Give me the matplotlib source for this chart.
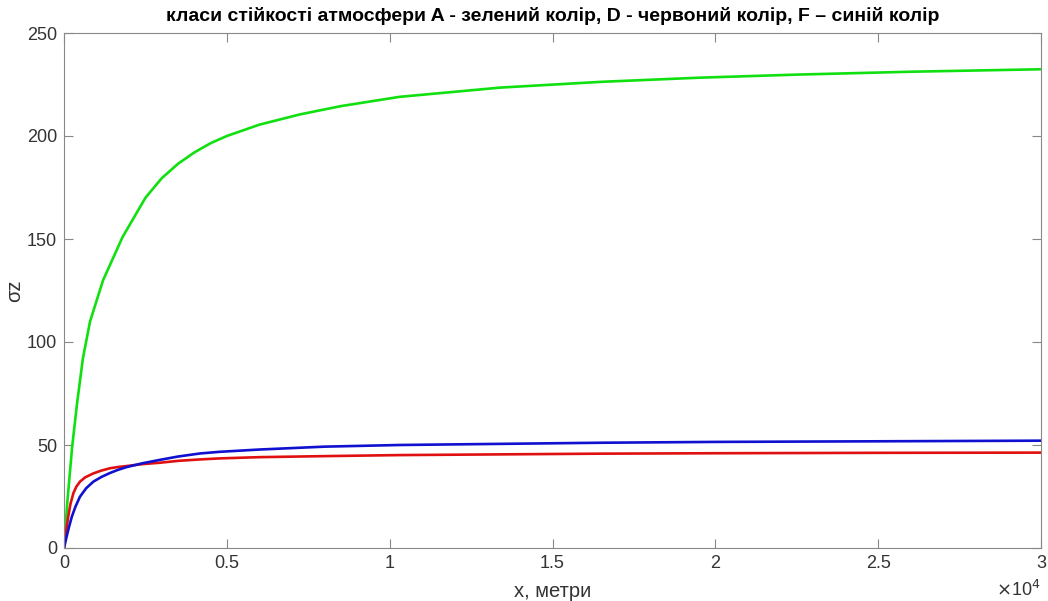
import numpy as np
import matplotlib; matplotlib.use('Agg')
import matplotlib.pyplot as plt
from matplotlib.ticker import FuncFormatter

# values (x in metres, sigma_z)
x_A = [0, 100, 250, 400, 580, 800, 1200, 1800, 2500, 3000, 3500, 4000, 4500, 5000, 6000, 7250,
       8500, 10300, 13400, 16500, 19500, 22500, 26000, 30000]
sz_A = [0, 22, 49, 70, 92, 110, 130, 151, 170, 179.5, 186.5, 192, 196.5, 200, 205.5, 210.5,
        214.5, 219, 223.5, 226.3, 228.3, 229.8, 231.2, 232.4]
x_D = [0, 50, 130, 200, 290, 380, 490, 650, 900, 1150, 1410, 1650, 1930, 2400, 2950,
       3500, 4180, 4790, 6000, 8000, 10300, 16500, 20000, 25000, 30000]
sz_D = [0, 7, 15.2, 21.5, 26.7, 29.8, 32.2, 34.3, 36.2, 37.6, 38.7, 39.3, 39.8, 40.7, 41.4,
        42.3, 43.0, 43.5, 44.1, 44.6, 45.1, 45.8, 46.0, 46.2, 46.3]
x_F = [0, 80, 150, 240, 350, 490, 680, 900, 1150, 1410, 1650, 1930, 2400, 2950,
       3500, 4180, 4790, 6000, 8000, 10300, 16500, 20000, 25000, 30000]
sz_F = [0, 5.5, 10, 15.2, 20, 24.9, 29, 32.2, 34.5, 36.4, 37.9, 39.3, 41.1, 42.8,
        44.4, 45.9, 46.7, 47.8, 49.2, 50.0, 51.1, 51.5, 51.8, 52.1]

plt.rcParams['font.family'] = ['Liberation Sans', 'DejaVu Sans']
fig = plt.figure(figsize=(10.48, 6.01), dpi=100)
ax = fig.add_axes([64/1048, 1-548/601, (1041-64)/1048, (548-33)/601])

ax.plot(x_A, sz_A, color='#10e010', lw=1.9)
ax.plot(x_D, sz_D, color='#e01010', lw=1.9)
ax.plot(x_F, sz_F, color='#1010d0', lw=1.9)

ax.set_xlim(0, 30000); ax.set_ylim(0, 250)
ax.set_xticks(np.arange(0, 30001, 5000)); ax.set_yticks(np.arange(0, 251, 50))
ax.xaxis.set_major_formatter(FuncFormatter(lambda v, p: f'{v/1e4:g}'))
ax.tick_params(direction='in', length=6.5, width=0.8, colors='#888888', labelcolor='#333333',
               labelsize=13, top=True, right=True, pad=5)
for s in ax.spines.values(): s.set_color('#888888'); s.set_linewidth(0.8)

ax.set_title('класи стійкості атмосфери A - зелений колір, D - червоний колір, F – синій колір',
             fontsize=14, fontweight='bold', pad=8.5)
ax.set_xlabel('x, метри', fontsize=14.5, color='#333333', labelpad=7)
ax.set_ylabel('σz', fontsize=14.5, color='#333333', labelpad=2)
ax.text(1.0, -0.062, r'$\times$10$^4$', transform=ax.transAxes, ha='right', va='top',
        fontsize=13, color='#333333')

fig.savefig('out.png', dpi=100)
